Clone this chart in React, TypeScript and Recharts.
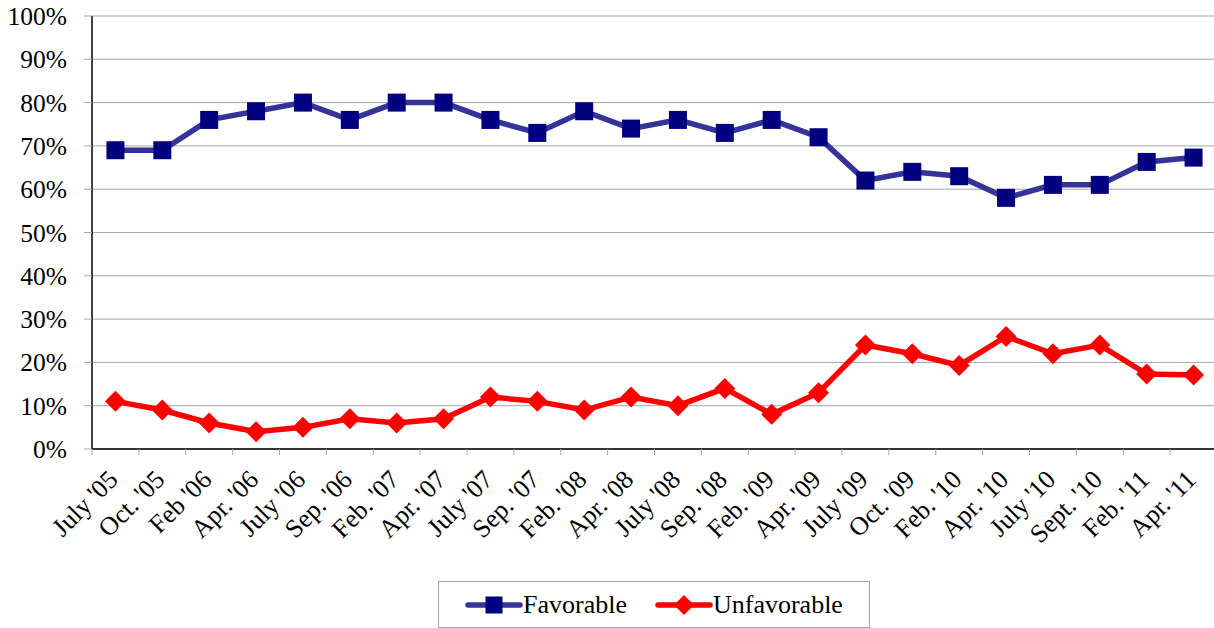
import React from 'react';
import { LineChart, Line, XAxis, YAxis, CartesianGrid, Legend } from 'recharts';

const categories = ["July '05", "Oct. '05", "Feb '06", "Apr. '06", "July '06", "Sep. '06", "Feb. '07", "Apr. '07", "July '07", "Sep. '07", "Feb. '08", "Apr. '08", "July '08", "Sep. '08", "Feb. '09", "Apr. '09", "July '09", "Oct. '09", "Feb. '10", "Apr. '10", "July '10", "Sept. '10", "Feb. '11", "Apr. '11"];
const favorable = [69, 69, 76, 78, 80, 76, 80, 80, 76, 73, 78, 74, 76, 73, 76, 72, 62, 64, 63, 58, 61, 61, 66.3, 67.3];
const unfavorable = [11, 9, 6, 4, 5, 7, 6, 7, 12, 11, 9, 12, 10, 14, 8, 13, 24, 22, 19.3, 26, 22, 24, 17.3, 17.1];
const yTicks = [0, 10, 20, 30, 40, 50, 60, 70, 80, 90, 100];

const data = categories.map((c, i) => ({ name: c, fav: favorable[i], unfav: unfavorable[i] }));

const W = 1217;
const H = 628;
const M = { top: 16, right: 0, left: 0, bottom: 10 };
const YW = 92;
const plotW = W - M.left - M.right - YW;
const half = plotW / categories.length / 2;
const FONT = 'Liberation Serif, Times New Roman, serif';

const SquareDot = (props: any) => {
  const { cx, cy, index } = props;
  if (cx == null || cy == null) return <g key={index} />;
  return <rect key={index} x={cx - 9} y={cy - 9} width={18} height={18} fill="#000080" />;
};

const DiamondDot = (props: any) => {
  const { cx, cy, index } = props;
  if (cx == null || cy == null) return <g key={index} />;
  const r = 10.5;
  return <polygon key={index} points={`${cx},${cy - r} ${cx + r},${cy} ${cx},${cy + r} ${cx - r},${cy}`} fill="#FF0000" />;
};

const XTick = (props: any) => {
  const { x, y, payload, index } = props;
  const last = index === categories.length - 1;
  const ax = x + 4;
  const ay = y + 24;
  return (
    <g>
      <line x1={x - half} x2={x - half} y1={y - 8} y2={y - 2} stroke="#A6A6A6" strokeWidth={1} />
      {last && <line x1={x + half} x2={x + half} y1={y - 8} y2={y - 2} stroke="#A6A6A6" strokeWidth={1} />}
      <text
        x={ax}
        y={ay}
        transform={`rotate(-45 ${ax} ${ay})`}
        textAnchor="end"
        style={{ fontFamily: FONT }}
        fontSize={26}
        fill="#000"
      >
        {payload.value}
      </text>
    </g>
  );
};

const LegendContent = () => (
  <div
    style={{
      width: 430,
      height: 45,
      border: '1px solid #A6A6A6',
      background: '#fff',
      display: 'flex',
      alignItems: 'center',
      fontFamily: FONT,
      fontSize: 26,
      color: '#000',
      boxSizing: 'content-box',
    }}
  >
    <svg width={58} height={20} style={{ marginLeft: 26 }}>
      <line x1={3} x2={55} y1={10} y2={10} stroke="#333399" strokeWidth={5.5} strokeLinecap="round" />
      <rect x={20.5} y={1.5} width={17} height={17} fill="#000080" />
    </svg>
    <span style={{ marginLeft: 0 }}>Favorable</span>
    <svg width={58} height={22} style={{ marginLeft: 28 }}>
      <line x1={3} x2={55} y1={11} y2={11} stroke="#FF0000" strokeWidth={5.5} strokeLinecap="round" />
      <polygon points="29,1 39,11 29,21 19,11" fill="#FF0000" />
    </svg>
    <span style={{ marginLeft: 0 }}>Unfavorable</span>
  </div>
);

export default function App() {
  return (
    <div style={{ position: 'absolute', left: 0, top: 0, width: 1214, height: 628, overflow: 'hidden', background: '#fff', fontFamily: FONT }}>
      <LineChart width={W} height={H} data={data} margin={M} style={{ fontFamily: FONT }}>
        <CartesianGrid vertical={false} stroke="#A6A6A6" strokeWidth={1} />
        <XAxis
          dataKey="name"
          interval={0}
          height={122}
          padding={{ left: half, right: half }}
          axisLine={{ stroke: '#000', strokeWidth: 1.5 }}
          tickLine={false}
          tick={<XTick />}
        />
        <YAxis
          width={YW}
          domain={[0, 100]}
          ticks={yTicks}
          interval={0}
          tickFormatter={(v: number) => `${v}%`}
          axisLine={{ stroke: '#000', strokeWidth: 1.5 }}
          tickLine={{ stroke: '#A6A6A6' }}
          tickSize={8}
          tickMargin={17}
          tick={{ fontSize: 25.5, fill: '#000', style: { fontFamily: FONT } }}
        />
        <Legend
          verticalAlign="bottom"
          content={<LegendContent />}
          wrapperStyle={{ left: 438, bottom: 0, width: 432, height: 47 }}
        />
        <Line
          dataKey="fav"
          name="Favorable"
          stroke="#333399"
          strokeWidth={5.5}
          dot={<SquareDot />}
          activeDot={false}
          isAnimationActive={false}
        />
        <Line
          dataKey="unfav"
          name="Unfavorable"
          stroke="#FF0000"
          strokeWidth={5.5}
          dot={<DiamondDot />}
          activeDot={false}
          isAnimationActive={false}
        />
      </LineChart>
    </div>
  );
}
